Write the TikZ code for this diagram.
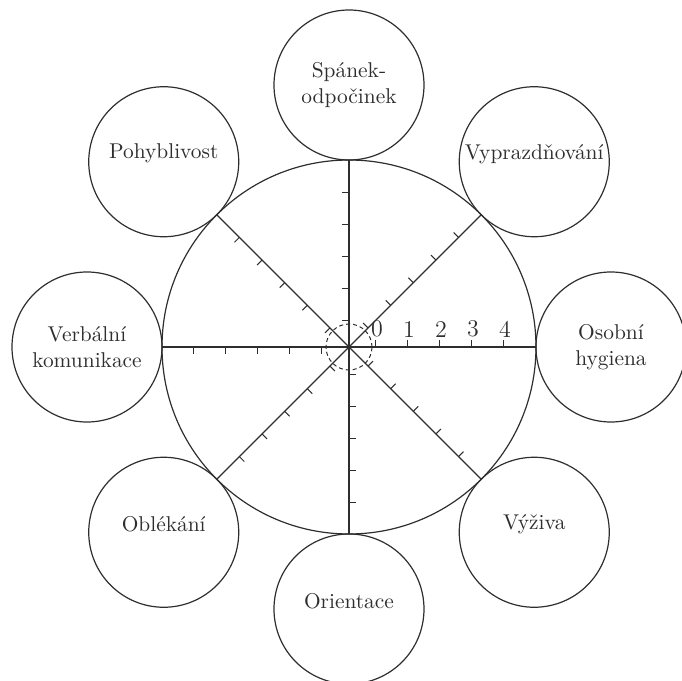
\documentclass[tikz,border=0pt]{standalone}
\usepackage{tikz}
\usetikzlibrary{calc}
\definecolor{ink}{HTML}{2E2E2E}
\newcommand{\lifted}[1]{\raisebox{4pt}[\height][\depth]{#1}}
\tikzset{
  petal/.style={draw=ink,circle,minimum size=75pt,inner sep=0pt,outer sep=0pt,
                align=center,line width=0.6pt,text=ink,font=\fontsize{10.7}{13}\selectfont},
  wheel/.style={draw=ink,circle,minimum size=187pt,inner sep=0pt,outer sep=0pt,line width=0.6pt},
  zero/.style={draw=ink,circle,dash pattern=on 2pt off 1.5pt,minimum size=23pt,
               inner sep=0pt,line width=0.5pt},
  spoke/.style={draw=ink,line width=0.6pt},
  notch/.style={draw=ink,line width=0.5pt},
  digit/.style={above,inner sep=1.2pt,text=ink,font=\fontsize{12}{14}\selectfont}
}
\begin{document}
\begin{tikzpicture}[x=0.5pt,y=0.5pt]
\useasboundingbox (-349,-334) rectangle (333,347);
\node[wheel] (wheel) at (0,0) {};
\node[zero] (zero) at (wheel.center) {};
\node[petal] (sleep) at (90:262) {Spánek-\\odpočinek};
\node[petal] (excr) at (45:262) {\lifted{Vyprazdňování}};
\node[petal] (hyg) at (0:262) {Osobní\\hygiena};
\node[petal] (food) at (-45:262) {\lifted{Výživa}};
\node[petal] (orient) at (-90:262) {\lifted{Orientace}};
\node[petal] (dress) at (-135:262) {\lifted{Oblékání}};
\node[petal] (verbal) at (180:262) {Verbální\\komunikace};
\node[petal] (move) at (135:262) {\lifted{Pohyblivost}};
\foreach \a in {0,45,...,315}{
  \draw[spoke] (wheel.center) -- (wheel.\a);
  \foreach \d in {27,59,91,123,155}
    \draw[notch] ($(wheel.center)+(\a:\d)$) -- ++(\a+90:7);
}
\foreach \n in {0,...,4}
  \node[digit] (d\n) at ($(wheel.center)+(28+32*\n,7)$) {\n};
\end{tikzpicture}
\end{document}
